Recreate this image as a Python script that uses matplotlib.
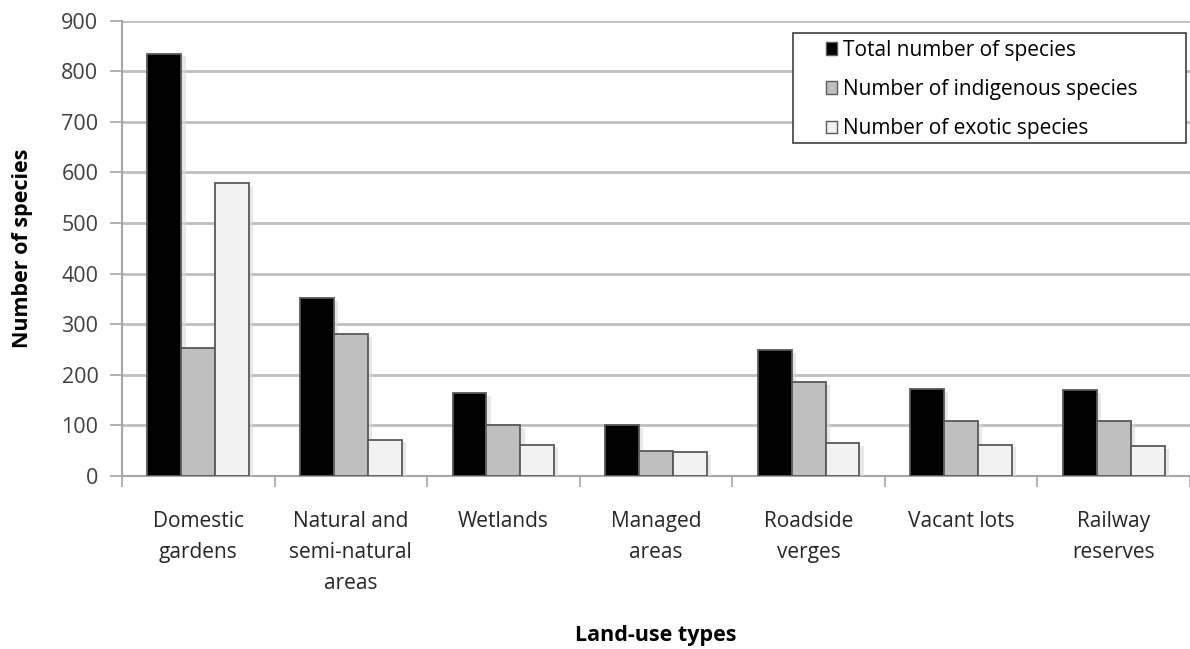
import matplotlib
matplotlib.use("Agg")
import matplotlib.pyplot as plt
import matplotlib.patheffects as pe
from matplotlib.patches import Rectangle
import numpy as np

categories = ["Domestic\ngardens", "Natural and\nsemi-natural\nareas", "Wetlands",
              "Managed\nareas", "Roadside\nverges", "Vacant lots", "Railway\nreserves"]
total_species = [835, 351, 164, 100, 249, 171, 170]
indigenous_species = [253, 280, 101, 49, 186, 109, 108]
exotic_species = [579, 72, 62, 47, 65, 62, 59]
series_labels = ["Total number of species", "Number of indigenous species",
                 "Number of exotic species"]
y_ticks = list(range(0, 901, 100))

plt.rcParams["font.family"] = ["Open Sans", "DejaVu Sans"]

W, H = 1190, 649
fig = plt.figure(figsize=(W / 100, H / 100), dpi=100)
ax_left, ax_right, ax_top, ax_bottom = 122, 1190, 20.7, 476
ax = fig.add_axes([ax_left / W, 1 - ax_bottom / H, (ax_right - ax_left) / W,
                   (ax_bottom - ax_top) / H])
aw, ah = ax_right - ax_left, ax_bottom - ax_top

x = np.arange(len(categories))
w = 1 / 4.5
colors = ["#000000", "#BFBFBF", "#F2F2F2"]
shadow = [pe.SimplePatchShadow(offset=(3, -2), shadow_rgbFace="#D9D9D9", alpha=0.6), pe.Normal()]
for i, (vals, c, lab) in enumerate(zip([total_species, indigenous_species, exotic_species],
                                       colors, series_labels)):
    ax.bar(x + (i - 1) * w, vals, width=w, color=c, edgecolor="#595959", linewidth=1.3,
           label=lab, zorder=3, path_effects=shadow)

ax.set_xlim(-0.5, len(categories) - 0.5)
ax.set_ylim(0, 900)
ax.set_yticks(y_ticks)
ax.set_yticklabels([str(v) for v in y_ticks], fontsize=15.5, color="#404040")
ax.yaxis.grid(True, color="#BEBEBE", linewidth=2, zorder=0)
ax.set_axisbelow(True)

ax.set_xticks(np.arange(-0.5, len(categories), 1.0))
ax.set_xticklabels([])
ax.set_xticks(x, minor=True)
ax.set_xticklabels(categories, minor=True, fontsize=15, color="#262626", linespacing=1.62,
                   va="top")
ax.tick_params(axis="x", which="minor", length=0, pad=25)
ax.tick_params(axis="x", which="major", length=8, width=1.2, color="#A6A6A6", direction="out")
ax.tick_params(axis="y", length=9, width=1.2, color="#A6A6A6", direction="out", pad=8)

for s in ["top", "right"]:
    ax.spines[s].set_visible(False)
for s in ["left", "bottom"]:
    ax.spines[s].set_color("#A6A6A6")
    ax.spines[s].set_linewidth(1.5)

ax.set_ylabel("Number of species", fontsize=15.5, fontweight="bold")
ax.set_xlabel("Land-use types", fontsize=15.5, fontweight="bold")
ax.yaxis.set_label_coords(-(ax_left - 23) / aw, 0.5)
ax.xaxis.set_label_coords(0.5, -(636 - ax_bottom) / ah)
ax.yaxis.label.set_va("center")
ax.xaxis.label.set_va("center")

# legend box
bx0, bx1, by0, by1 = 793, 1186, 33, 143
ax.add_patch(Rectangle(((bx0 - ax_left) / aw, (ax_bottom - by1) / ah),
                       (bx1 - bx0) / aw, (by1 - by0) / ah, transform=ax.transAxes,
                       facecolor="white", edgecolor="#404040", linewidth=1.2, zorder=5))
leg = ax.legend(loc="upper left",
                bbox_to_anchor=((810 - ax_left) / aw, (ax_bottom - (by0 - 9)) / ah),
                fontsize=15, frameon=False, borderpad=0.25,
                handlelength=0.55, handleheight=0.55, handletextpad=0.3, labelspacing=0.88)
leg.set_zorder(6)
for h in leg.legend_handles:
    h.set_path_effects([])
    h.set_linewidth(1.0)

fig.savefig("out.png", dpi=100, facecolor="white")
